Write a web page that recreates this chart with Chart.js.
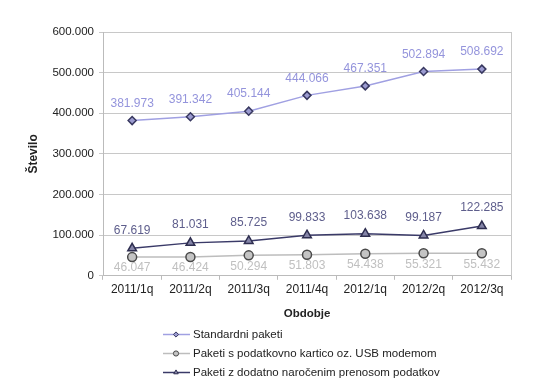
<!DOCTYPE html>
<html><head><meta charset="utf-8">
<script src="https://cdn.jsdelivr.net/npm/chart.js@4/dist/chart.umd.min.js"></script>
<style>html,body{margin:0;padding:0;background:#fff}#wrap{width:545px;height:392px}</style>
</head><body><div id="wrap"><canvas id="c" width="545" height="392"></canvas></div>
<script>
const categories = ['2011/1q','2011/2q','2011/3q','2011/4q','2012/1q','2012/2q','2012/3q'];
const standardni = [381973,391342,405144,444066,467351,502894,508692];
const usbModem = [46047,46424,50294,51803,54438,55321,55432];
const prenos = [67619,81031,85725,99833,103638,99187,122285];
const seriesNames = ['Standardni paketi','Paketi s podatkovno kartico oz. USB modemom','Paketi z dodatno naročenim prenosom podatkov'];
const yTicks = [0,100000,200000,300000,400000,500000,600000];

const fmt = v => v === 0 ? '0' : v.toString().replace(/\B(?=(\d{3})+(?!\d))/g, '.');

const FONT = "'Liberation Sans', Arial, sans-serif";

const labelPlugin = {
  id: 'labels',
  afterDatasetsDraw(chart) {
    const ctx = chart.ctx;
    ctx.save();
    ctx.font = '12px ' + FONT;
    ctx.textAlign = 'center';
    ctx.textBaseline = 'middle';
    chart.data.datasets.forEach((ds, i) => {
      const meta = chart.getDatasetMeta(i);
      meta.data.forEach((pt, j) => {
        ctx.fillStyle = ds.labelColor;
        ctx.fillText(fmt(ds.data[j]), pt.x, pt.y + ds.labelOffset);
      });
    });
    // right border
    const a = chart.chartArea;
    ctx.strokeStyle = '#c8c8c8';
    ctx.lineWidth = 1;
    ctx.beginPath();
    ctx.moveTo(Math.round(a.right) + 0.5, a.top);
    ctx.lineTo(Math.round(a.right) + 0.5, a.bottom);
    ctx.stroke();
    // legend
    ctx.font = '11.5px ' + FONT;
    ctx.textAlign = 'left';
    const rows = [334, 353, 372];
    chart.data.datasets.forEach((ds, i) => {
      const y = rows[i];
      ctx.strokeStyle = ds.borderColor;
      ctx.lineWidth = 1.5;
      ctx.beginPath();
      ctx.moveTo(163, y + 0.5); ctx.lineTo(190, y + 0.5); ctx.stroke();
      ctx.fillStyle = ds.pointBackgroundColor;
      ctx.strokeStyle = ds.pointBorderColor;
      ctx.lineWidth = 1;
      Chart.helpers.drawPoint(ctx, {pointStyle: ds.pointStyle, radius: 2.6, borderWidth: 1}, 176, y + 0.5);
      ctx.fillStyle = '#222';
      ctx.fillText(seriesNames[i], 193, y + 1);
    });
    ctx.restore();
  }
};

new Chart(document.getElementById('c'), {
  type: 'line',
  data: {
    labels: categories,
    datasets: [
      {label: seriesNames[0], data: standardni, borderColor: '#a0a0e2', borderWidth: 1.5,
       pointStyle: 'rectRot', pointRadius: 4, pointBackgroundColor: '#9b9bd0', pointBorderColor: '#383860', pointBorderWidth: 1.5,
       labelColor: '#9494dc', labelOffset: -17},
      {label: seriesNames[1], data: usbModem, borderColor: '#bdbdbd', borderWidth: 1.5,
       pointStyle: 'circle', pointRadius: 4.5, pointBackgroundColor: '#c4c4c4', pointBorderColor: '#4a4a4a', pointBorderWidth: 1.5,
       labelColor: '#c0c0c0', labelOffset: 11},
      {label: seriesNames[2], data: prenos, borderColor: '#3a3a68', borderWidth: 1.5,
       pointStyle: 'triangle', pointRadius: 5, pointBackgroundColor: '#8585a8', pointBorderColor: '#2e2e50', pointBorderWidth: 1.5,
       labelColor: '#5e5e8c', labelOffset: -18}
    ]
  },
  options: {
    responsive: false,
    animation: false,
    layout: {padding: {left: 22, right: 34, top: 32, bottom: 67}},
    plugins: {legend: {display: false}, tooltip: {enabled: false}},
    scales: {
      x: {
        offset: true,
        grid: {offset: true, drawOnChartArea: false, drawTicks: true, tickLength: 4, color: '#bbbbbb'},
        border: {color: '#bbbbbb'},
        ticks: {color: '#222', font: {family: FONT, size: 12}, padding: 3, maxRotation: 0},
        title: {display: true, text: 'Obdobje', color: '#222', font: {family: FONT, size: 11.5, weight: 'bold'}, padding: {top: 7}}
      },
      y: {
        min: 0, max: 600000,
        afterBuildTicks: s => { s.ticks = yTicks.map(v => ({value: v})); },
        afterFit: s => { s.width = 81; },
        grid: {color: '#c8c8c8', tickLength: 4},
        border: {color: '#bbbbbb'},
        ticks: {color: '#222', font: {family: FONT, size: 11.5}, padding: 5, callback: v => fmt(v)},
        title: {display: true, text: 'Število', color: '#222', font: {family: FONT, size: 12, weight: 'bold'}, padding: {top: 4, bottom: 0}}
      }
    }
  },
  plugins: [labelPlugin]
});
</script>
</body></html>
